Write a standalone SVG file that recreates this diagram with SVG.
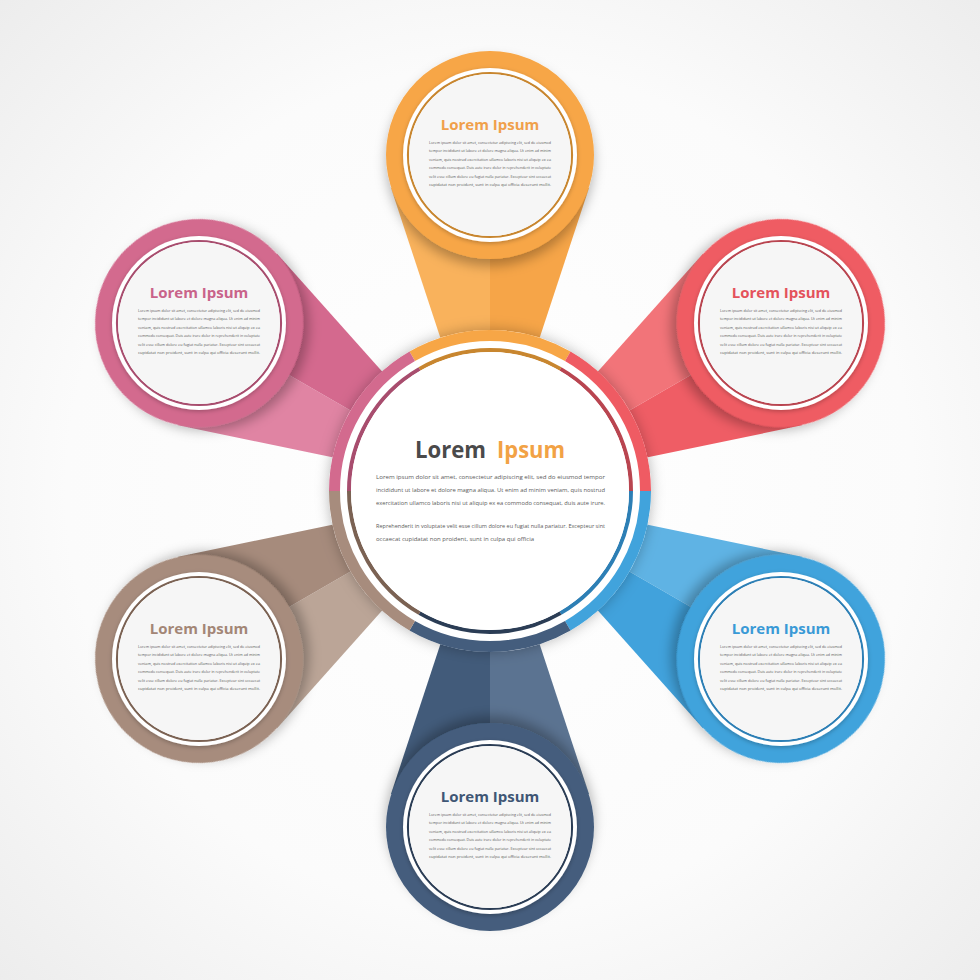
<svg xmlns="http://www.w3.org/2000/svg" width="980" height="980" viewBox="0 0 980 980">
<defs>
<radialGradient id="bg" cx="50%" cy="50%" r="72%">
<stop offset="0" stop-color="#ffffff"/>
<stop offset="0.6" stop-color="#fbfbfb"/>
<stop offset="1" stop-color="#ececec"/>
</radialGradient>
<filter id="satsh" x="-40%" y="-40%" width="180%" height="180%">
<feDropShadow dx="0" dy="7" stdDeviation="6" flood-color="#000" flood-opacity="0.28"/>
</filter>
<filter id="ringsh" x="-30%" y="-30%" width="160%" height="160%">
<feDropShadow dx="0" dy="0" stdDeviation="7" flood-color="#000" flood-opacity="0.28"/>
</filter>
<filter id="insh" x="-20%" y="-20%" width="140%" height="140%">
<feDropShadow dx="0" dy="1.5" stdDeviation="2" flood-color="#000" flood-opacity="0.25"/>
</filter>
<path id="petL" d="M-42,-130 L-99,-303 L0,-336 L0,-130Z"/>
<path id="petR" d="M42,-130 L99,-303 L0,-336 L0,-130Z"/>
</defs>
<style>
.st{font-family:"Open Sans","Liberation Sans",sans-serif;font-weight:700;font-size:15px;text-anchor:middle}
.bd{font-family:"Open Sans","Liberation Sans",sans-serif;font-size:4px;fill:#595959}
.cb{font-family:"Open Sans","Liberation Sans",sans-serif;font-size:5.8px;fill:#5a5a5a}
.ct{font-family:"Open Sans","Liberation Sans",sans-serif;font-weight:700;font-size:24px}
.wr{fill:#ffffff}
.in{fill:#f6f6f6}
.arc{fill:none;stroke-width:11}
.darc{fill:none;stroke-width:4}
</style>
<rect x="0" y="0" width="980" height="980" fill="url(#bg)"/>

<g id="connectors">
<g transform="translate(490 491) rotate(0)"><use href="#petL" fill="#f9b25c"/><use href="#petR" fill="#f6a548"/></g>
<g transform="translate(490 491) rotate(60)"><use href="#petL" fill="#f27479"/><use href="#petR" fill="#ef5d65"/></g>
<g transform="translate(490 491) rotate(120)"><use href="#petL" fill="#5fb3e4"/><use href="#petR" fill="#41a2dc"/></g>
<g transform="translate(490 491) rotate(180)"><use href="#petL" fill="#5b7391"/><use href="#petR" fill="#425b7a"/></g>
<g transform="translate(490 491) rotate(240)"><use href="#petL" fill="#bba597"/><use href="#petR" fill="#a68b7c"/></g>
<g transform="translate(490 491) rotate(300)"><use href="#petL" fill="#e084a3"/><use href="#petR" fill="#d4698e"/></g>
</g>

<g id="node-center">
<circle cx="490" cy="491" r="161" fill="#ffffff" filter="url(#ringsh)"/>
<path class="arc" stroke="#f7a646" d="M412.25,356.33 A155.5,155.5 0 0 1 567.75,356.33"/>
<path class="arc" stroke="#ef5b63" d="M567.75,356.33 A155.5,155.5 0 0 1 645.5,491"/>
<path class="arc" stroke="#41a3dc" d="M645.5,491 A155.5,155.5 0 0 1 567.75,625.67"/>
<path class="arc" stroke="#445d7d" d="M567.75,625.67 A155.5,155.5 0 0 1 412.25,625.67"/>
<path class="arc" stroke="#a78c7d" d="M412.25,625.67 A155.5,155.5 0 0 1 334.5,491"/>
<path class="arc" stroke="#d36a8e" d="M334.5,491 A155.5,155.5 0 0 1 412.25,356.33"/>
<path class="darc" stroke="#c8862f" d="M419.5,368.89 A141,141 0 0 1 560.5,368.89"/>
<path class="darc" stroke="#b94550" d="M560.5,368.89 A141,141 0 0 1 631,491"/>
<path class="darc" stroke="#2d7fb5" d="M631,491 A141,141 0 0 1 560.5,613.11"/>
<path class="darc" stroke="#2b3d55" d="M560.5,613.11 A141,141 0 0 1 419.5,613.11"/>
<path class="darc" stroke="#7b6253" d="M419.5,613.11 A141,141 0 0 1 349,491"/>
<path class="darc" stroke="#a84d6e" d="M349,491 A141,141 0 0 1 419.5,368.89"/>
<circle cx="490" cy="491" r="139" fill="#ffffff"/>
<text class="ct" x="415" y="458"><tspan fill="#4a4a4a" textLength="71" lengthAdjust="spacingAndGlyphs">Lorem</tspan></text>
<text class="ct" x="497" y="458"><tspan fill="#f2a245" textLength="68" lengthAdjust="spacingAndGlyphs">Ipsum</tspan></text>
<text class="cb" x="376" y="479" textLength="229" lengthAdjust="spacingAndGlyphs">Lorem ipsum dolor sit amet, consectetur adipiscing elit, sed do eiusmod tempor</text>
<text class="cb" x="376" y="492" textLength="229" lengthAdjust="spacingAndGlyphs">incididunt ut labore et dolore magna aliqua. Ut enim ad minim veniam, quis nostrud</text>
<text class="cb" x="376" y="505" textLength="229" lengthAdjust="spacingAndGlyphs">exercitation ullamco laboris nisi ut aliquip ex ea commodo consequat, duis aute irure.</text>
<text class="cb" x="376" y="528" textLength="229" lengthAdjust="spacingAndGlyphs">Reprehenderit in voluptate velit esse cillum dolore eu fugiat nulla pariatur. Excepteur sint</text>
<text class="cb" x="376" y="541" textLength="158" lengthAdjust="spacingAndGlyphs">occaecat cupidatat non proident, sunt in culpa qui officia</text>
</g>

<g id="node-1">
<g transform="translate(490 491) rotate(0) translate(0 -336)"><circle r="104" fill="#f7a646" filter="url(#satsh)"/></g>
<circle cx="490" cy="155" r="87" class="wr" filter="url(#insh)"/>
<circle cx="490" cy="155" r="82" fill="none" stroke="#c8862f" stroke-width="2.2"/>
<circle cx="490" cy="155" r="81" class="in"/>
<text class="st" x="490" y="130" fill="#f0a04b">Lorem Ipsum</text>
<text class="bd" x="429" y="143.5" textLength="122" lengthAdjust="spacingAndGlyphs">Lorem ipsum dolor sit amet, consectetur adipiscing elit, sed do eiusmod</text>
<text class="bd" x="429" y="152" textLength="122" lengthAdjust="spacingAndGlyphs">tempor incididunt ut labore et dolore magna aliqua. Ut enim ad minim</text>
<text class="bd" x="429" y="160.5" textLength="122" lengthAdjust="spacingAndGlyphs">veniam, quis nostrud exercitation ullamco laboris nisi ut aliquip ex ea</text>
<text class="bd" x="429" y="169" textLength="122" lengthAdjust="spacingAndGlyphs">commodo consequat. Duis aute irure dolor in reprehenderit in voluptate</text>
<text class="bd" x="429" y="177.5" textLength="122" lengthAdjust="spacingAndGlyphs">velit esse cillum dolore eu fugiat nulla pariatur. Excepteur sint occaecat</text>
<text class="bd" x="429" y="186" textLength="122" lengthAdjust="spacingAndGlyphs">cupidatat non proident, sunt in culpa qui officia deserunt mollit.</text>
</g>

<g id="node-2">
<g transform="translate(490 491) rotate(60) translate(0 -336)"><circle r="104" fill="#ef5b63" filter="url(#satsh)"/></g>
<circle cx="781" cy="323" r="87" class="wr" filter="url(#insh)"/>
<circle cx="781" cy="323" r="82" fill="none" stroke="#b94550" stroke-width="2.2"/>
<circle cx="781" cy="323" r="81" class="in"/>
<text class="st" x="781" y="298" fill="#e4525c">Lorem Ipsum</text>
<text class="bd" x="720" y="311.5" textLength="122" lengthAdjust="spacingAndGlyphs">Lorem ipsum dolor sit amet, consectetur adipiscing elit, sed do eiusmod</text>
<text class="bd" x="720" y="320" textLength="122" lengthAdjust="spacingAndGlyphs">tempor incididunt ut labore et dolore magna aliqua. Ut enim ad minim</text>
<text class="bd" x="720" y="328.5" textLength="122" lengthAdjust="spacingAndGlyphs">veniam, quis nostrud exercitation ullamco laboris nisi ut aliquip ex ea</text>
<text class="bd" x="720" y="337" textLength="122" lengthAdjust="spacingAndGlyphs">commodo consequat. Duis aute irure dolor in reprehenderit in voluptate</text>
<text class="bd" x="720" y="345.5" textLength="122" lengthAdjust="spacingAndGlyphs">velit esse cillum dolore eu fugiat nulla pariatur. Excepteur sint occaecat</text>
<text class="bd" x="720" y="354" textLength="122" lengthAdjust="spacingAndGlyphs">cupidatat non proident, sunt in culpa qui officia deserunt mollit.</text>
</g>

<g id="node-3">
<g transform="translate(490 491) rotate(120) translate(0 -336)"><circle r="104" fill="#41a3dc" filter="url(#satsh)"/></g>
<circle cx="781" cy="659" r="87" class="wr" filter="url(#insh)"/>
<circle cx="781" cy="659" r="82" fill="none" stroke="#2d7fb5" stroke-width="2.2"/>
<circle cx="781" cy="659" r="81" class="in"/>
<text class="st" x="781" y="634" fill="#3a9ad6">Lorem Ipsum</text>
<text class="bd" x="720" y="647.5" textLength="122" lengthAdjust="spacingAndGlyphs">Lorem ipsum dolor sit amet, consectetur adipiscing elit, sed do eiusmod</text>
<text class="bd" x="720" y="656" textLength="122" lengthAdjust="spacingAndGlyphs">tempor incididunt ut labore et dolore magna aliqua. Ut enim ad minim</text>
<text class="bd" x="720" y="664.5" textLength="122" lengthAdjust="spacingAndGlyphs">veniam, quis nostrud exercitation ullamco laboris nisi ut aliquip ex ea</text>
<text class="bd" x="720" y="673" textLength="122" lengthAdjust="spacingAndGlyphs">commodo consequat. Duis aute irure dolor in reprehenderit in voluptate</text>
<text class="bd" x="720" y="681.5" textLength="122" lengthAdjust="spacingAndGlyphs">velit esse cillum dolore eu fugiat nulla pariatur. Excepteur sint occaecat</text>
<text class="bd" x="720" y="690" textLength="122" lengthAdjust="spacingAndGlyphs">cupidatat non proident, sunt in culpa qui officia deserunt mollit.</text>
</g>

<g id="node-4">
<g transform="translate(490 491) rotate(180) translate(0 -336)"><circle r="104" fill="#445d7d" filter="url(#satsh)"/></g>
<circle cx="490" cy="827" r="87" class="wr" filter="url(#insh)"/>
<circle cx="490" cy="827" r="82" fill="none" stroke="#2b3d55" stroke-width="2.2"/>
<circle cx="490" cy="827" r="81" class="in"/>
<text class="st" x="490" y="802" fill="#3f5675">Lorem Ipsum</text>
<text class="bd" x="429" y="815.5" textLength="122" lengthAdjust="spacingAndGlyphs">Lorem ipsum dolor sit amet, consectetur adipiscing elit, sed do eiusmod</text>
<text class="bd" x="429" y="824" textLength="122" lengthAdjust="spacingAndGlyphs">tempor incididunt ut labore et dolore magna aliqua. Ut enim ad minim</text>
<text class="bd" x="429" y="832.5" textLength="122" lengthAdjust="spacingAndGlyphs">veniam, quis nostrud exercitation ullamco laboris nisi ut aliquip ex ea</text>
<text class="bd" x="429" y="841" textLength="122" lengthAdjust="spacingAndGlyphs">commodo consequat. Duis aute irure dolor in reprehenderit in voluptate</text>
<text class="bd" x="429" y="849.5" textLength="122" lengthAdjust="spacingAndGlyphs">velit esse cillum dolore eu fugiat nulla pariatur. Excepteur sint occaecat</text>
<text class="bd" x="429" y="858" textLength="122" lengthAdjust="spacingAndGlyphs">cupidatat non proident, sunt in culpa qui officia deserunt mollit.</text>
</g>

<g id="node-5">
<g transform="translate(490 491) rotate(240) translate(0 -336)"><circle r="104" fill="#a78c7d" filter="url(#satsh)"/></g>
<circle cx="199" cy="659" r="87" class="wr" filter="url(#insh)"/>
<circle cx="199" cy="659" r="82" fill="none" stroke="#7b6253" stroke-width="2.2"/>
<circle cx="199" cy="659" r="81" class="in"/>
<text class="st" x="199" y="634" fill="#a38676">Lorem Ipsum</text>
<text class="bd" x="138" y="647.5" textLength="122" lengthAdjust="spacingAndGlyphs">Lorem ipsum dolor sit amet, consectetur adipiscing elit, sed do eiusmod</text>
<text class="bd" x="138" y="656" textLength="122" lengthAdjust="spacingAndGlyphs">tempor incididunt ut labore et dolore magna aliqua. Ut enim ad minim</text>
<text class="bd" x="138" y="664.5" textLength="122" lengthAdjust="spacingAndGlyphs">veniam, quis nostrud exercitation ullamco laboris nisi ut aliquip ex ea</text>
<text class="bd" x="138" y="673" textLength="122" lengthAdjust="spacingAndGlyphs">commodo consequat. Duis aute irure dolor in reprehenderit in voluptate</text>
<text class="bd" x="138" y="681.5" textLength="122" lengthAdjust="spacingAndGlyphs">velit esse cillum dolore eu fugiat nulla pariatur. Excepteur sint occaecat</text>
<text class="bd" x="138" y="690" textLength="122" lengthAdjust="spacingAndGlyphs">cupidatat non proident, sunt in culpa qui officia deserunt mollit.</text>
</g>

<g id="node-6">
<g transform="translate(490 491) rotate(300) translate(0 -336)"><circle r="104" fill="#d36a8e" filter="url(#satsh)"/></g>
<circle cx="199" cy="323" r="87" class="wr" filter="url(#insh)"/>
<circle cx="199" cy="323" r="82" fill="none" stroke="#a84d6e" stroke-width="2.2"/>
<circle cx="199" cy="323" r="81" class="in"/>
<text class="st" x="199" y="298" fill="#c9638a">Lorem Ipsum</text>
<text class="bd" x="138" y="311.5" textLength="122" lengthAdjust="spacingAndGlyphs">Lorem ipsum dolor sit amet, consectetur adipiscing elit, sed do eiusmod</text>
<text class="bd" x="138" y="320" textLength="122" lengthAdjust="spacingAndGlyphs">tempor incididunt ut labore et dolore magna aliqua. Ut enim ad minim</text>
<text class="bd" x="138" y="328.5" textLength="122" lengthAdjust="spacingAndGlyphs">veniam, quis nostrud exercitation ullamco laboris nisi ut aliquip ex ea</text>
<text class="bd" x="138" y="337" textLength="122" lengthAdjust="spacingAndGlyphs">commodo consequat. Duis aute irure dolor in reprehenderit in voluptate</text>
<text class="bd" x="138" y="345.5" textLength="122" lengthAdjust="spacingAndGlyphs">velit esse cillum dolore eu fugiat nulla pariatur. Excepteur sint occaecat</text>
<text class="bd" x="138" y="354" textLength="122" lengthAdjust="spacingAndGlyphs">cupidatat non proident, sunt in culpa qui officia deserunt mollit.</text>
</g>
</svg>
